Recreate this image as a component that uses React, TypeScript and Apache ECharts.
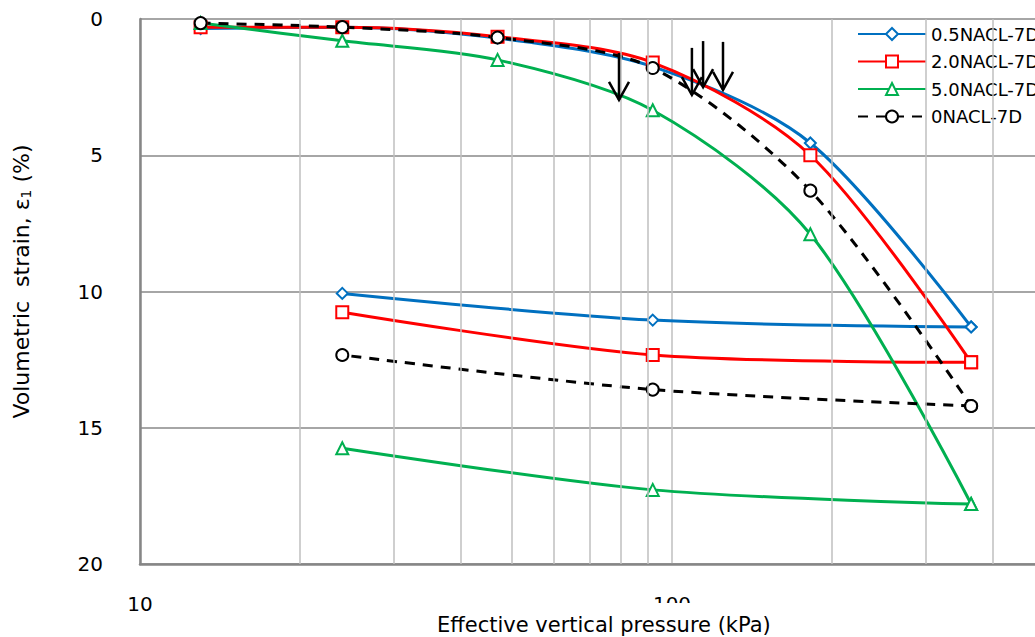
import React, { useEffect, useRef } from "react";
import * as echarts from "echarts";

// Effective vertical pressure (kPa) for loading and unloading paths
const pressureLoad = [13, 24, 47, 92, 182, 365];
const pressureUnload = [365, 92, 24];

// Volumetric strain (%)
const blueLoad = [0.35, 0.3, 0.7, 1.75, 4.55, 11.3];
const blueUnload = [11.3, 11.05, 10.07];
const redLoad = [0.3, 0.3, 0.65, 1.6, 5.0, 12.6];
const redUnload = [12.6, 12.33, 10.76];
const greenLoad = [0.15, 0.8, 1.5, 3.35, 7.9, 17.8];
const greenUnload = [17.8, 17.28, 15.75];
const blackLoad = [0.15, 0.3, 0.68, 1.8, 6.3, 14.2];
const blackUnload = [14.2, 13.6, 12.33];

const seriesNames = ["0.5NACL-7D", "2.0NACL-7D", "5.0NACL-7D", "0NACL-7D"];

// minor vertical gridlines of the log axis
const minorGrid = [20, 30, 40, 50, 60, 70, 80, 90, 200, 300, 400, 500, 600, 700, 800, 900];
const xMajorTicks = [10, 100, 1000];

// yield arrows: pressure, strain at tail, strain at tip
const arrowX = [79.5, 109, 114.4, 124.7];
const arrowTop = [1.25, 1.06, 0.81, 0.84];
const arrowTip = [2.97, 2.79, 2.5, 2.6];

const FONT = "DejaVu Sans";

function pairs(xs: number[], ys: number[]) {
  return xs.map((x, i) => [x, ys[i]]);
}

export default function App() {
  const ref = useRef<HTMLDivElement>(null);

  useEffect(() => {
    if (!ref.current) return;
    const chart = echarts.init(ref.current, undefined, { renderer: "svg" });

    const mk = (
      name: string,
      data: number[][],
      color: string,
      symbol: string,
      size: number,
      dashed: boolean
    ) => ({
      type: "line",
      name,
      data,
      smooth: 0.3,
      symbol,
      symbolSize: size,
      showAllSymbol: true,
      z: 3,
      lineStyle: {
        color,
        width: 3,
        type: dashed ? [10, 8] : "solid",
      },
      itemStyle: { color: "#fff", borderColor: color, borderWidth: 2 },
      emphasis: { disabled: true },
    });

    const option: any = {
      animation: false,
      textStyle: { fontFamily: FONT },
      grid: { left: 140, top: 19, width: 1064, height: 545, containLabel: false },
      legend: {
        data: seriesNames,
        orient: "vertical",
        left: 857,
        top: 25,
        padding: 0,
        itemWidth: 68,
        itemHeight: 15,
        itemGap: 9.5,
        textStyle: { fontSize: 18, color: "#000", fontFamily: FONT },
      },
      xAxis: {
        type: "log",
        logBase: 10,
        min: 10,
        max: 1000,
        axisLine: { show: true, onZero: false, lineStyle: { color: "#868686", width: 2.5 } },
        axisTick: { show: false },
        axisLabel: {
          fontSize: 20,
          color: "#000",
          margin: 30,
          fontFamily: FONT,
          formatter: (v: number) =>
            xMajorTicks.some((t) => Math.abs(t - v) < 1e-6) ? String(v) : "",
        },
        splitLine: { show: true, lineStyle: { color: "#BFBFBF", width: 1.5 } },
      },
      yAxis: {
        type: "value",
        inverse: true,
        min: 0,
        max: 20,
        interval: 5,
        name: "Volumetric  strain, ε{sub|1} (%)",
        nameLocation: "middle",
        nameGap: 107,
        nameTextStyle: {
          fontSize: 22,
          color: "#000",
          fontFamily: FONT,
          padding: [0, 0, 0, 20],
          rich: { sub: { fontSize: 14, verticalAlign: "bottom", padding: [9, 0, 0, 0], fontFamily: FONT, color: "#000" } },
        },
        axisLine: { show: true, onZero: false, lineStyle: { color: "#868686", width: 2.5 } },
        axisTick: { show: false },
        axisLabel: { fontSize: 20, color: "#000", margin: 37, fontFamily: FONT },
        splitLine: { show: true, lineStyle: { color: "#A6A6A6", width: 2 } },
      },
      graphic: [
        {
          type: "text",
          left: 429,
          top: 603,
          z: 100,
          style: {
            text: "Effective vertical pressure (kPa)",
            fontSize: 21,
            fontFamily: FONT,
            fill: "#000",
            backgroundColor: "#fff",
            padding: [11, 8, 4, 8],
          },
        },
      ],
      series: [
        {
          type: "line",
          name: "minor-grid",
          data: [],
          z: 1,
          silent: true,
          markLine: {
            silent: true,
            symbol: ["none", "none"],
            label: { show: false },
            lineStyle: { color: "#BFBFBF", width: 1.5, type: "solid" },
            emphasis: { disabled: true },
            data: minorGrid.map((v) => ({ xAxis: v })),
          },
        },
        mk(seriesNames[0], pairs(pressureLoad, blueLoad), "#0070C0", "diamond", 11, false),
        mk(seriesNames[0], pairs(pressureUnload, blueUnload), "#0070C0", "diamond", 11, false),
        mk(seriesNames[1], pairs(pressureLoad, redLoad), "#FF0000", "rect", 12, false),
        mk(seriesNames[1], pairs(pressureUnload, redUnload), "#FF0000", "rect", 12, false),
        mk(seriesNames[2], pairs(pressureLoad, greenLoad), "#00B050", "triangle", 12, false),
        mk(seriesNames[2], pairs(pressureUnload, greenUnload), "#00B050", "triangle", 12, false),
        mk(seriesNames[3], pairs(pressureLoad, blackLoad), "#000000", "circle", 12, true),
        mk(seriesNames[3], pairs(pressureUnload, blackUnload), "#000000", "circle", 12, true),
        {
          type: "custom",
          name: "arrows",
          z: 10,
          silent: true,
          data: arrowX.map((x, i) => [x, arrowTop[i], arrowTip[i]]),
          encode: { x: 0, y: [1, 2] },
          renderItem: (_params: any, api: any) => {
            const a = api.coord([api.value(0), api.value(1)]);
            const b = api.coord([api.value(0), api.value(2)]);
            return {
              type: "group",
              children: [
                {
                  type: "line",
                  shape: { x1: a[0], y1: a[1], x2: b[0], y2: b[1] },
                  style: { stroke: "#000", lineWidth: 2.5 },
                },
                {
                  type: "polyline",
                  shape: {
                    points: [
                      [b[0] - 10, b[1] - 18],
                      [b[0], b[1]],
                      [b[0] + 10, b[1] - 18],
                    ],
                  },
                  style: { stroke: "#000", lineWidth: 2.5, fill: "none" },
                },
              ],
            };
          },
        },
      ],
    };

    chart.setOption(option);
    return () => chart.dispose();
  }, []);

  return (
    <div
      style={{
        position: "fixed",
        left: 0,
        top: 0,
        width: 1035,
        height: 637,
        overflow: "hidden",
        background: "#fff",
      }}
    >
      <div ref={ref} style={{ width: 1300, height: 637 }} />
    </div>
  );
}
